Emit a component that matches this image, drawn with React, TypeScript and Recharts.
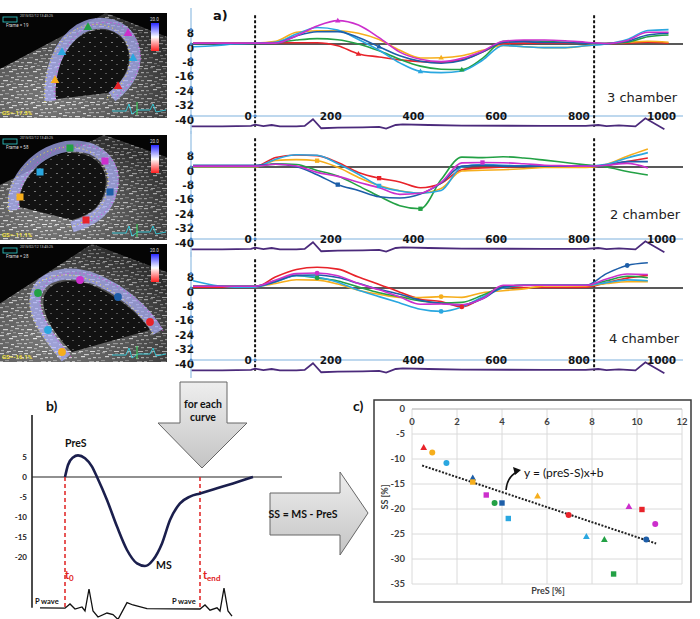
import React from 'react';
import {
  LineChart, Line, XAxis, YAxis, ReferenceLine, ScatterChart, Scatter, CartesianGrid,
} from 'recharts';

// segment order used everywhere: basal/mid/apical walls as coloured in the echo software
const SEGS = ['red', 'orange', 'green', 'cyan', 'blue', 'magenta'];
const SEG_COLOR: Record<string, string> = {
  red: '#e8232a',
  orange: '#f6ae1c',
  green: '#23a145',
  cyan: '#2aa7e0',
  blue: '#1d5ea8',
  magenta: '#cc2fcc',
};

// ---- a) strain curves (ms, %) ----
const T_3CH = [-150, -100, -50, 0, 50, 100, 150, 200, 250, 300, 350, 400, 450, 500, 550, 600, 650, 700, 750, 800, 850, 900, 950, 1000];
const CH3_RED = [0.7, 0.7, 0.7, 0.7, 0.7, 0.7, 0.7, -1, -5.5, -7.2, -8.8, -9.8, -10.2, -8.8, -4.5, 0.2, 0.5, 0.5, 0.5, 0.5, 0.3, 0.5, 1, 0.5];
const CH3_ORANGE = [0.5, 0.5, 0.5, 0.5, 1.5, 6.5, 7.4, 7.4, 6, 2.5, -3.5, -7.8, -7.6, -6.5, -3.5, -0.8, -1.5, -2, -2, -1, 0.3, 1, 1.5, 1];
const CH3_GREEN = [0.3, 0.3, 0.3, 0.3, 0.8, 2.2, 3, 2.4, 0, -3.8, -8.5, -12.3, -14, -14.2, -8, 1.5, 1.8, 1.5, 1, 0.5, 0.2, 1, 4, 5];
const CH3_CYAN = [-1.5, -1, 0, 0.5, 1, 5.5, 9.2, 7.8, 2.5, -3.5, -10.5, -15.2, -15.9, -15, -9, -0.8, -1.5, -2, -2, -1, 0, 2.5, 7.5, 8];
const CH3_BLUE = [0.3, 0.3, 0.3, 0.3, 0.5, 4.5, 6.8, 6.9, 3.6, -1.5, -6.5, -9.6, -10.7, -9.2, -4.5, 0.8, 1.3, 0.8, 0.8, 0.5, 0.2, 1.5, 5, 6];
const CH3_MAGENTA = [0.5, 0.5, 0.5, 0.5, 0.5, 4.5, 10, 13, 10.5, 3.5, -4.5, -8.5, -9.8, -8, -4, 1.5, 2.2, 2.2, 1.8, 1, 0.3, 2, 6.5, 6.5];
const CH3_MARK = [250, 450, 500, 400, 300, 200];

const T_2CH = [-150, -100, -50, 0, 50, 100, 150, 200, 250, 300, 350, 400, 450, 500, 550, 600, 650, 700, 750, 800, 850, 900, 950];
const CH2_RED = [0.3, 0.3, 0.3, 0.3, 5.3, 6.7, 6.3, 2.5, -3, -6.2, -8.3, -11.5, -9, -1.5, -0.5, 0, 0.3, 0.3, 0.3, 0.3, 1, 3, 5];
const CH2_ORANGE = [0, 0, 0, 0, 3.7, 4.1, 3.5, -0.2, -5.8, -10.3, -13.2, -14.5, -12, -2.2, -1.8, -1.5, -1, -0.3, -0.3, -0.3, 1.5, 6, 10];
const CH2_GREEN = [0.3, 0.3, 0.3, 0.3, 1.8, 1.4, -1.9, -5, -10.5, -16.3, -21.5, -23.2, -7, 5.5, 5.2, 5.7, 5, 3.8, 2.5, 1.2, 0, -2.5, -4.4];
const CH2_CYAN = [0.3, 0.3, 0.3, 0.3, 4.3, 6.8, 6.5, 1.8, -4, -10.5, -13.3, -14.5, -13, 0, 1.3, 1, 0.6, 0.6, 0.6, 0.6, 1.5, 5, 8];
const CH2_BLUE = [1, 1, 1, 1, 1.5, 0.2, -4.3, -9.8, -13, -16.5, -17.2, -15, -9, 0.5, 1, 0.5, 0.5, 0.5, 0.5, 0.5, 1, 3, 3];
const CH2_MAGENTA = [0.5, 0.5, 0.5, 0.5, 1.5, 0.6, -3, -5.2, -8.5, -11.5, -15.2, -14.6, -8.5, 2.3, 2.5, 2.4, 1.8, 1, 0.7, 0.5, 1, 2, -0.5];
const CH2_MARK = [300, 150, 400, 300, 200, 550];

const T_4CH = [-150, -100, -50, 0, 50, 100, 150, 200, 250, 300, 350, 400, 450, 500, 550, 600, 650, 700, 750, 800, 850, 900, 950];
const CH4_RED = [0.5, 0.5, 0.5, 0.5, 6.2, 10.3, 11.5, 10.5, 6.1, 2, -2.3, -6.2, -7.5, -10.5, -5.5, 0.8, 0.3, 0.3, 0.3, 0.5, 3, 5.5, 7];
const CH4_ORANGE = [1, 1, 1, 1, 2.5, 4.6, 4.4, 2.2, -1.2, -3.5, -5.2, -5.3, -4.8, -5.2, -2.6, -1.5, -0.5, 1.2, 1.2, 1.2, 2.5, 3.5, 3.5];
const CH4_GREEN = [1, 1, 1, 1, 4, 7, 5.6, 3.9, 0.6, -2.6, -4.9, -7.2, -8.3, -8, -4, 0.5, 1.5, 1.5, 1.5, 1.5, 4, 6.5, 5.7];
const CH4_CYAN = [4, 1.5, 0.5, 0.5, 3.5, 6.8, 6, 3.2, -1.3, -4.8, -8.3, -11.8, -13, -10.5, -5, 0, 1.5, 1.5, 1.5, 1.5, 3, 4.5, 4];
const CH4_BLUE = [1, 1, 1, 1, 3.5, 7.1, 7.2, 5.8, 2.6, -0.7, -3.5, -6.8, -8.5, -9.5, -6, 0.5, 1.5, 1.5, 1.5, 1.5, 8, 12.5, 14];
const CH4_MAGENTA = [1, 1, 1, 1, 4.5, 8, 8.3, 6.8, 2.5, -1, -5, -9, -8.9, -9.3, -6, 1.5, 1.5, 1.5, 1.5, 1.5, 5, 7.8, 7.5];
const CH4_MARK = [500, 450, 150, 450, 900, 150];

const ECG_A_T = [-155, -80, -10, 0, 20, 40, 60, 100, 120, 140, 160, 200, 260, 300, 317, 340, 357, 420, 500, 700, 800, 830, 850, 880, 920, 944, 990];
const ECG_A_V = [-45.8, -45.8, -45.5, -44.8, -45.6, -45, -45.8, -45.8, -45.5, -41.8, -46.8, -46.5, -46.3, -46, -47, -45, -44.6, -45, -45.3, -45.5, -45.5, -45, -45.6, -45.2, -45.8, -41.3, -47.4];
const A_XTICKS = [0, 200, 400, 600, 800, 1000];
const A_YTICKS = [8, 0, -8, -16, -24, -32, -40];

// ---- b) schematic curve ----
const B_T = [33, 36, 41, 46, 53, 60, 65, 75, 85, 95, 105, 113, 121, 130, 138, 148, 158, 168, 185, 201, 221];
const B_V = [0, 3, 4.9, 5.4, 4.7, 2.6, 0, -5.75, -12.4, -18.25, -21.6, -22.25, -20.75, -16.6, -10.75, -6.6, -4.9, -4.1, -2.8, -1.6, 0];
const ECG_B_T = [8, 33, 38, 43, 50, 53, 57, 61, 66, 75, 81, 86, 95, 101, 115, 168, 173, 178, 185, 188, 192, 196, 200];
const ECG_B_V = [-32.7, -32.8, -31.75, -33, -32.5, -33.5, -28, -33.5, -35, -34, -34.4, -35.6, -31.4, -32, -32.9, -33, -32, -33.3, -32.7, -33.5, -27.8, -33.5, -34.8];
const B_T0 = 33;
const B_TEND = 168;
const B_YTICKS = [5, 0, -5, -10, -15, -20];

// ---- c) scatter, PreS vs SS ----
const TRI_X = [0.52, 2.7, 5.58, 7.75, 8.55, 9.64];
const TRI_Y = [-7.7, -13.8, -17.4, -25.5, -26.1, -19.5];
const TRI_C = ['red', 'blue', 'orange', 'cyan', 'green', 'magenta'];
const CIR_X = [0.9, 1.53, 3.67, 6.96, 10.41, 10.81];
const CIR_Y = [-8.7, -10.8, -18.8, -21.2, -26.1, -23];
const CIR_C = ['orange', 'cyan', 'green', 'red', 'blue', 'magenta'];
const SQ_X = [2.7, 3.3, 4.0, 4.28, 8.96, 10.22];
const SQ_Y = [-14.6, -17.2, -18.8, -21.9, -33, -20.1];
const SQ_C = ['orange', 'magenta', 'blue', 'cyan', 'green', 'red'];
const TREND_X = [0.45, 10.85];
const TREND_Y = [-11.3, -26.9];
const C_XTICKS = [0, 2, 4, 6, 8, 10, 12];
const C_YTICKS = [0, -5, -10, -15, -20, -25, -30, -35];

const VERDANA = '"DejaVu Sans", Verdana, sans-serif';
const CALIBRI = 'Lato, "Open Sans", sans-serif';

type Shape = 'tri' | 'sq' | 'circ';

function drawShape(shape: Shape, cx: number, cy: number, fill: string, k: string, s = 1) {
  if (shape === 'tri') {
    return <path key={k} d={`M${cx},${cy - 3.6 * s}L${cx + 3.4 * s},${cy + 2.4 * s}L${cx - 3.4 * s},${cy + 2.4 * s}Z`} fill={fill} />;
  }
  if (shape === 'sq') {
    return <rect key={k} x={cx - 2.7 * s} y={cy - 2.7 * s} width={5.4 * s} height={5.4 * s} fill={fill} />;
  }
  return <circle key={k} cx={cx} cy={cy} r={3 * s} fill={fill} />;
}

function markerDot(color: string, markT: number, shape: Shape) {
  return (p: any) => {
    const { cx, cy, payload, index } = p;
    if (!payload || payload.t !== markT || cx == null) return <g key={`n${index}`} />;
    return drawShape(shape, cx, cy, color, `m${index}`, 0.8);
  };
}

const aXTick = (p: any) => (
  <g>
    <text x={p.x - 7} y={120} textAnchor="middle" fontFamily={VERDANA} fontWeight="bold" fontSize={10.5} fill="#151515">
      {p.payload.value}
    </text>
    <circle cx={p.x} cy={116} r={1.4} fill="#4a86c8" />
  </g>
);

const aYTick = (p: any) => (
  <g>
    <text x={19} y={p.y + 7.5} textAnchor="end" fontFamily={VERDANA} fontWeight="bold" fontSize={10.5} fill="#151515">
      {p.payload.value}
    </text>
    <circle cx={16} cy={p.y} r={1.5} fill="#4a86c8" />
  </g>
);

function StrainPanel({ top, times, series, marks, shape }: {
  top: number; times: number[]; series: number[][]; marks: number[]; shape: Shape;
}) {
  const data = times.map((t, i) => {
    const r: Record<string, number> = { t };
    SEGS.forEach((s, k) => { r[s] = series[k][i]; });
    return r;
  });
  const ecg = ECG_A_T.map((t, i) => ({ t, ecg: ECG_A_V[i] }));
  return (
    <div style={{ position: 'absolute', left: 175, top }}>
      <LineChart width={520} height={136} data={data} margin={{ top: 8, right: 12, bottom: 0, left: 0 }}>
        <XAxis type="number" dataKey="t" domain={[-155, 1035]} ticks={A_XTICKS} interval={0}
          height={2} axisLine={false} tickLine={false} tick={aXTick} />
        <YAxis type="number" domain={[-50, 20]} ticks={A_YTICKS} interval={0} width={16}
          axisLine={{ stroke: '#a9cbe8', strokeWidth: 1.5 }} tickLine={false} tick={aYTick} />
        <ReferenceLine y={-40} stroke="#a9cbe8" strokeWidth={1.5} />
        <ReferenceLine y={0} stroke="#222" strokeWidth={1.5} />
        <ReferenceLine segment={[{ x: 0, y: 16 }, { x: 0, y: -46 }]} stroke="#111" strokeWidth={2} strokeDasharray="3 2" />
        <ReferenceLine segment={[{ x: 820, y: 16 }, { x: 820, y: -46 }]} stroke="#111" strokeWidth={2} strokeDasharray="3 2" />
        {SEGS.map((s, k) => (
          <Line key={s} dataKey={s} type="monotone" stroke={SEG_COLOR[s]} strokeWidth={1.6}
            dot={markerDot(SEG_COLOR[s], marks[k], shape)} activeDot={false} isAnimationActive={false} />
        ))}
        <Line data={ecg} dataKey="ecg" type="linear" stroke="#4b2a7b" strokeWidth={1.8}
          dot={false} activeDot={false} isAnimationActive={false} />
      </LineChart>
    </div>
  );
}

const bYTick = (p: any) => (
  <text x={27} y={p.y + 3} textAnchor="end" fontFamily={CALIBRI} fontWeight="bold" fontSize={8} fill="#222">
    {p.payload.value}
  </text>
);

function SchematicPanel() {
  const curve = B_T.map((t, i) => ({ t, v: B_V[i] }));
  const ecg = ECG_B_T.map((t, i) => ({ t, ecg: ECG_B_V[i] }));
  return (
    <div style={{ position: 'absolute', left: 0, top: 400 }}>
      <LineChart width={300} height={221} margin={{ top: 13, right: 18, bottom: 0, left: 8 }}>
        <XAxis type="number" dataKey="t" domain={[0, 250]} hide />
        <YAxis type="number" domain={[-36, 16]} ticks={B_YTICKS} interval={0} width={24}
          axisLine={false} tickLine={false} tick={bYTick} />
        <ReferenceLine segment={[{ x: 0, y: 15.5 }, { x: 0, y: -32.7 }]} stroke="#111" strokeWidth={1.5} />
        <ReferenceLine y={0} stroke="#222" strokeWidth={1.2} />
        <ReferenceLine segment={[{ x: B_T0, y: 0 }, { x: B_T0, y: -32.7 }]} stroke="#e02020" strokeWidth={1.5} strokeDasharray="4 3" />
        <ReferenceLine segment={[{ x: B_TEND, y: 0 }, { x: B_TEND, y: -32.7 }]} stroke="#e02020" strokeWidth={1.5} strokeDasharray="4 3" />
        <Line data={curve} dataKey="v" type="monotone" stroke="#1b1f4d" strokeWidth={2.6}
          dot={false} activeDot={false} isAnimationActive={false} />
        <Line data={ecg} dataKey="ecg" type="linear" stroke="#111" strokeWidth={1.3}
          dot={false} activeDot={false} isAnimationActive={false} />
      </LineChart>
    </div>
  );
}

const cXTick = (p: any) => (
  <text x={p.x} y={25} textAnchor="middle" fontFamily={CALIBRI} fontWeight="bold" fontSize={9.5} fill="#404040">
    {p.payload.value}
  </text>
);
const cYTick = (p: any) => (
  <text x={31} y={p.y + 3} textAnchor="end" fontFamily={CALIBRI} fontWeight="bold" fontSize={9.5} fill="#404040">
    {p.payload.value}
  </text>
);
const pointShape = (shape: Shape) => (p: any) =>
  drawShape(shape, p.cx, p.cy, SEG_COLOR[p.payload.c], `p${p.cx}-${p.cy}`);
const noShape = () => <g />;

function ScatterPanel() {
  const tri = TRI_X.map((x, i) => ({ x, y: TRI_Y[i], c: TRI_C[i] }));
  const cir = CIR_X.map((x, i) => ({ x, y: CIR_Y[i], c: CIR_C[i] }));
  const sq = SQ_X.map((x, i) => ({ x, y: SQ_Y[i], c: SQ_C[i] }));
  const trend = TREND_X.map((x, i) => ({ x, y: TREND_Y[i] }));
  return (
    <div style={{ position: 'absolute', left: 374, top: 400 }}>
      <ScatterChart width={317} height={202} margin={{ top: 8, right: 9, bottom: 18, left: 8 }}>
        <CartesianGrid stroke="#dadada" />
        <XAxis type="number" dataKey="x" orientation="top" domain={[0, 12]} ticks={C_XTICKS} interval={0}
          height={1} axisLine={{ stroke: '#bdbdbd' }} tickLine={false} tick={cXTick} />
        <YAxis type="number" dataKey="y" domain={[-35, 0]} ticks={C_YTICKS} interval={0} width={30}
          axisLine={false} tickLine={false} tick={cYTick} />
        <Scatter data={trend} line={{ stroke: '#222', strokeWidth: 2, strokeDasharray: '2 1.5' }}
          shape={noShape} isAnimationActive={false} />
        <Scatter data={tri} shape={pointShape('tri')} isAnimationActive={false} />
        <Scatter data={cir} shape={pointShape('circ')} isAnimationActive={false} />
        <Scatter data={sq} shape={pointShape('sq')} isAnimationActive={false} />
      </ScatterChart>
    </div>
  );
}

// ---- echo stills (decorative, hand drawn) ----
const SPECKLE: [number, number, number, string][] = [
  [0, 1, 4, '#d8d8d8'], [6, 0, 3, '#9c9c9c'], [12, 2, 5, '#cfcfcf'], [19, 1, 3, '#8a8a8a'],
  [2, 5, 3, '#a8a8a8'], [9, 4, 4, '#e8e8e8'], [16, 6, 3, '#b0b0b0'], [21, 5, 3, '#d0d0d0'],
  [0, 9, 3, '#c0c0c0'], [5, 8, 4, '#8c8c8c'], [11, 10, 3, '#dcdcdc'], [17, 9, 5, '#a0a0a0'],
  [3, 13, 5, '#e0e0e0'], [10, 14, 3, '#9a9a9a'], [15, 12, 4, '#c8c8c8'], [21, 13, 3, '#b8b8b8'],
  [1, 16, 3, '#a4a4a4'], [7, 17, 4, '#d4d4d4'], [13, 16, 3, '#888888'], [18, 17, 5, '#e4e4e4'],
];

type EchoMark = [number, number, string];
function Echo({ top, h, fan, wall, cavity, marks, shape, gs, frame }: {
  top: number; h: number; fan: string; wall: string; cavity: string; marks: EchoMark[];
  shape: Shape; gs: string; frame: string;
}) {
  const id = `e${top}`;
  return (
    <svg width={167} height={h} style={{ position: 'absolute', left: 0, top }}>
      <defs>
        <pattern id={`${id}p`} width="24" height="18" patternUnits="userSpaceOnUse">
          <rect width="24" height="18" fill="#4a4a4a" />
          {SPECKLE.map(([x, y, w, c], i) => <rect key={i} x={x} y={y} width={w} height={1.2} fill={c} />)}
        </pattern>
        <pattern id={`${id}q`} width="11" height="9" patternUnits="userSpaceOnUse">
          <rect x="1" y="2" width="2" height="1" fill="#777" />
          <rect x="6" y="6" width="2" height="1" fill="#555" />
        </pattern>
        <radialGradient id={`${id}g`} cx="0.3" cy="0.8" r="0.8">
          <stop offset="0" stopColor="#fff" stopOpacity="0.25" />
          <stop offset="1" stopColor="#000" stopOpacity="0.35" />
        </radialGradient>
        <linearGradient id={`${id}b`} x1="0" y1="0" x2="0" y2="1">
          <stop offset="0" stopColor="#2a2aff" />
          <stop offset="0.5" stopColor="#ffffff" />
          <stop offset="1" stopColor="#ff2020" />
        </linearGradient>
      </defs>
      <rect width={167} height={h} fill="#050505" />
      <path d={fan} fill={`url(#${id}p)`} />
      <path d={fan} fill={`url(#${id}g)`} />
      <path d={cavity} fill="#121212" />
      <path d={cavity} fill={`url(#${id}q)`} />
      <path d={wall} fill="none" stroke="rgba(175,180,255,0.7)" strokeWidth={11} />
      <path d={wall} fill="none" stroke="#f0e040" strokeWidth={1} strokeDasharray="1 3" transform="translate(-5,1)" />
      <path d={wall} fill="none" stroke="#e040e0" strokeWidth={1} strokeDasharray="1 3" transform="translate(5,-1)" />
      {marks.map(([x, y, c], i) => drawShape(shape, x, y, SEG_COLOR[c], `em${i}`, 1.3))}
      <rect x={151} y={10} width={8} height={28} fill={`url(#${id}b)`} />
      <text x={150} y={8} fontSize={4.5} fill="#ddd" fontFamily="Roboto">20.0</text>
      <rect x={3} y={4} width={14} height={5} fill="none" stroke="#2fd0d0" strokeWidth={0.8} />
      <text x={20} y={4} fontSize={3.5} fill="#ccc" fontFamily="Roboto">2015/02/12 13:45:25</text>
      <text x={6} y={14} fontSize={4.5} fill="#ddd" fontFamily="Roboto">{frame}</text>
      <text x={2} y={h - 3} fontSize={6} fontWeight="bold" fill="#f0e040" fontFamily="Roboto">{gs}</text>
      <polyline points={`112,${h - 7} 126,${h - 7} 129,${h - 14} 132,${h - 4} 138,${h - 8} 150,${h - 8} 153,${h - 14} 156,${h - 6} 166,${h - 8}`}
        fill="none" stroke="#35d0e0" strokeWidth={0.9} />
      <line x1={137} y1={h - 16} x2={137} y2={h - 3} stroke="#3ce060" strokeWidth={1} />
    </svg>
  );
}

export default function App() {
  return (
    <div style={{ position: 'absolute', left: 0, top: 0, width: 700, height: 619, background: '#fff', overflow: 'hidden' }}>
      <Echo top={13} h={105} gs="GS=-17.3%" frame="Frame = 19" shape="tri"
        fan="M106,0 L-4,58 L-4,110 L172,110 L172,26 Z"
        wall="M50,88 C48,60 58,30 80,16 C100,5 125,10 133,32 C140,52 130,70 112,84"
        cavity="M56,86 C54,60 63,34 82,22 C100,12 120,16 127,34 C133,52 124,68 108,80 Z"
        marks={[[55, 67, 'orange'], [62, 39, 'cyan'], [88, 14, 'green'], [128, 20, 'magenta'], [133, 45, 'cyan'], [118, 73, 'red']]} />
      <Echo top={135} h={105} gs="GS=-11.1%" frame="Frame = 58" shape="sq"
        fan="M104,0 L-4,52 L-4,110 L172,110 L172,24 Z"
        wall="M14,75 C8,45 40,12 72,11 C100,10 118,30 112,55 C108,75 95,85 72,92"
        cavity="M20,72 C16,46 44,18 72,18 C96,18 110,34 105,55 C101,72 90,80 72,85 Z"
        marks={[[20, 62, 'orange'], [40, 37, 'cyan'], [70, 13, 'green'], [105, 26, 'magenta'], [110, 57, 'blue'], [86, 85, 'red']]} />
      <Echo top={244} h={118} gs="GS=-16.1%" frame="Frame = 28" shape="circ"
        fan="M92,0 L-4,62 L-4,122 L172,122 L172,30 Z"
        wall="M66,114 C50,95 30,70 36,50 C42,30 70,25 95,35 C120,45 145,65 158,88"
        cavity="M72,108 C56,92 40,70 44,52 C50,36 72,33 94,42 C116,52 138,68 150,86 Z"
        marks={[[38, 49, 'green'], [80, 36, 'magenta'], [118, 53, 'blue'], [150, 78, 'red'], [48, 86, 'cyan'], [62, 108, 'orange']]} />

      <StrainPanel top={0} times={T_3CH} marks={CH3_MARK} shape="tri"
        series={[CH3_RED, CH3_ORANGE, CH3_GREEN, CH3_CYAN, CH3_BLUE, CH3_MAGENTA]} />
      <StrainPanel top={123} times={T_2CH} marks={CH2_MARK} shape="sq"
        series={[CH2_RED, CH2_ORANGE, CH2_GREEN, CH2_CYAN, CH2_BLUE, CH2_MAGENTA]} />
      <StrainPanel top={244} times={T_4CH} marks={CH4_MARK} shape="circ"
        series={[CH4_RED, CH4_ORANGE, CH4_GREEN, CH4_CYAN, CH4_BLUE, CH4_MAGENTA]} />

      <SchematicPanel />
      <ScatterPanel />

      <svg width={700} height={619} style={{ position: 'absolute', left: 0, top: 0, pointerEvents: 'none' }}>
        <defs>
          <linearGradient id="arrowFill" x1="0" y1="0" x2="0" y2="1">
            <stop offset="0" stopColor="#eeeeee" />
            <stop offset="1" stopColor="#c4c4c4" />
          </linearGradient>
        </defs>
        <text x={213} y={20} fontFamily={VERDANA} fontWeight="bold" fontSize={13} fill="#111">a)</text>
        <text x={607} y={102} fontFamily={VERDANA} fontSize={13} fill="#222">3 chamber</text>
        <text x={610} y={219} fontFamily={VERDANA} fontSize={13} fill="#222">2 chamber</text>
        <text x={609} y={343} fontFamily={VERDANA} fontSize={13} fill="#222">4 chamber</text>

        <text x={46} y={411} fontFamily={CALIBRI} fontWeight="bold" fontSize={14} fill="#111">b)</text>
        <text x={353} y={411} fontFamily={CALIBRI} fontWeight="bold" fontSize={14} fill="#111">c)</text>

        <text x={65} y={447} fontFamily={CALIBRI} fontWeight="bold" fontSize={10.5} fill="#111">PreS</text>
        <text x={156} y={569} fontFamily={CALIBRI} fontWeight="bold" fontSize={10.5} fill="#111">MS</text>
        <text x={65} y={579} fontFamily={CALIBRI} fontWeight="bold" fontSize={11} fill="#e02020">t
          <tspan fontSize={8} dy={2}>0</tspan>
        </text>
        <text x={203} y={579} fontFamily={CALIBRI} fontWeight="bold" fontSize={11} fill="#e02020">t
          <tspan fontSize={8} dy={2}>end</tspan>
        </text>
        <text x={35} y={604} fontFamily={CALIBRI} fontWeight="bold" fontSize={7.5} fill="#111">P wave</text>
        <text x={172} y={604} fontFamily={CALIBRI} fontWeight="bold" fontSize={7.5} fill="#111">P wave</text>

        <polygon points="180,382 227,382 227,423 247,423 202,468 158,423 180,423"
          fill="url(#arrowFill)" stroke="#666" strokeWidth={1} />
        <text x={203} y={408} textAnchor="middle" fontFamily={CALIBRI} fontWeight="bold" fontSize={10.5} fill="#111">for each</text>
        <text x={203} y={421} textAnchor="middle" fontFamily={CALIBRI} fontWeight="bold" fontSize={10.5} fill="#111">curve</text>

        <polygon points="270,493 340,493 340,472 368,513 340,555 340,535 270,535"
          fill="url(#arrowFill)" stroke="#666" strokeWidth={1} />
        <text x={303} y={518} textAnchor="middle" fontFamily={CALIBRI} fontWeight="bold" fontSize={10.5} fill="#111">SS = MS - PreS</text>

        <rect x={374} y={400} width={317} height={202} fill="none" stroke="#3a3a3a" strokeWidth={1.5} />
        <text x={388} y={497} transform="rotate(-90 388 497)" textAnchor="middle" fontFamily={CALIBRI} fontWeight="bold" fontSize={9} fill="#404040">SS [%]</text>
        <text x={548} y={594} textAnchor="middle" fontFamily={CALIBRI} fontWeight="bold" fontSize={9} fill="#404040">PreS [%]</text>
        <text x={524} y={477} fontFamily={CALIBRI} fontSize={12} fill="#111">y = (preS-S)x+b</text>
        <path d="M506,490 Q507,477 517,472" fill="none" stroke="#111" strokeWidth={1.6} />
        <polygon points="521,470 513,467 515,475" fill="#111" />
      </svg>
    </div>
  );
}
